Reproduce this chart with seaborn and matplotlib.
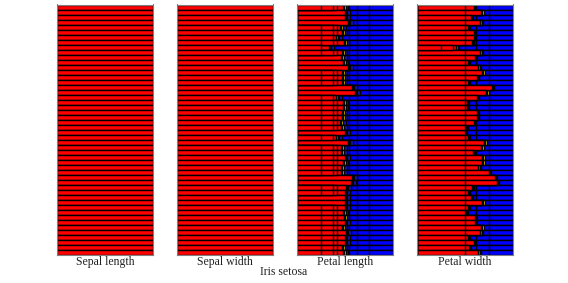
import numpy as np
import pandas as pd
import matplotlib
matplotlib.use("Agg")
import matplotlib.pyplot as plt
import seaborn as sns

# Panel titles
panels = ["Sepal length", "Sepal width", "Petal length", "Petal width"]
group_label = "Iris setosa"
n_rows = 50

# Share of red (setosa) in each sample row
sepal_length_red = [1.0] * n_rows
sepal_width_red = [1.0] * n_rows
petal_length_red = [0.48, 0.50, 0.50, 0.53, 0.45, 0.47, 0.41, 0.49, 0.33, 0.47,
                    0.46, 0.48, 0.53, 0.47, 0.47, 0.47, 0.57, 0.60, 0.41, 0.48,
                    0.48, 0.47, 0.47, 0.45, 0.46, 0.50, 0.41, 0.53, 0.46, 0.46,
                    0.50, 0.48, 0.46, 0.46, 0.57, 0.56, 0.51, 0.50, 0.50, 0.50,
                    0.50, 0.48, 0.49, 0.50, 0.47, 0.51, 0.50, 0.50, 0.47, 0.48]
petal_width_red = [0.59, 0.67, 0.56, 0.66, 0.53, 0.59, 0.59, 0.57, 0.41, 0.66,
                   0.60, 0.53, 0.64, 0.68, 0.62, 0.53, 0.78, 0.72, 0.62, 0.52,
                   0.52, 0.62, 0.62, 0.59, 0.51, 0.50, 0.53, 0.70, 0.67, 0.58,
                   0.68, 0.68, 0.64, 0.75, 0.81, 0.83, 0.57, 0.53, 0.56, 0.68,
                   0.53, 0.51, 0.60, 0.60, 0.67, 0.66, 0.53, 0.59, 0.54, 0.64]

# Rows whose red part is split into sub-blocks
petal_length_split = [1, 0, 0, 0, 1, 1, 1, 1, 1, 1, 0, 0, 0, 1, 1, 1, 0, 0, 1, 1,
                      1, 1, 1, 1, 1, 0, 1, 0, 1, 1, 1, 1, 1, 1, 0, 0, 1, 1, 0, 0,
                      1, 1, 1, 1, 1, 1, 1, 1, 1, 1]
petal_width_split = [0] * 8 + [1] + [0] * 41

# block boundaries inside red / blue parts
red_cuts = {"Petal length": [0.42, 0.38, 0.25], "Petal width": [0.42, 0.38, 0.25]}
always_cuts = {"Petal length": [], "Petal width": [0.50]}
blue_cuts = {"Petal length": [0.75, 0.62, 0.54], "Petal width": [0.75, 0.61]}

red_vals = {"Sepal length": sepal_length_red, "Sepal width": sepal_width_red,
            "Petal length": petal_length_red, "Petal width": petal_width_red}
split_vals = {"Sepal length": [0] * n_rows, "Sepal width": [0] * n_rows,
              "Petal length": petal_length_split, "Petal width": petal_width_split}

RED, BLUE, YELLOW, OLIVE, NAVY = "#ff0000", "#0000ff", "#ffd800", "#8a7a00", "#1a1ac0"

sns.set_theme(style="white")
plt.rcParams["font.family"] = ["Liberation Serif", "DejaVu Serif"]

fig = plt.figure(figsize=(5.68, 2.83), dpi=100)
lefts = [57, 177, 297, 417]
rows = np.arange(n_rows)


def layer(ax, widths, color):
    df = pd.DataFrame({"row": rows, "w": widths})
    sns.barplot(data=df, x="w", y="row", orient="h", color=color, width=1.0,
                edgecolor="black", linewidth=1.0, errorbar=None, ax=ax,
                saturation=1)


for name, left in zip(panels, lefts):
    ax = fig.add_axes([left / 568, 1 - 255 / 283, 96 / 568, 250.5 / 283])
    red = np.array(red_vals[name])
    split = np.array(split_vals[name])
    full = red >= 1.0
    olive_end = np.where(full, 1.0, red + 0.012)
    yellow_end = np.where(full, 1.0, red + 0.026)

    # blue background and its blocks
    layer(ax, [1.0] * n_rows, BLUE)
    for c in blue_cuts.get(name, []):
        layer(ax, np.where(yellow_end < c, c, 0), BLUE)
    if name == "Petal length":
        layer(ax, np.minimum(yellow_end + 0.03, 1.0), NAVY)
    for c in always_cuts.get(name, []):
        layer(ax, [c] * n_rows, BLUE)
    layer(ax, yellow_end, YELLOW)
    layer(ax, olive_end, OLIVE)
    layer(ax, red, RED)
    for c in always_cuts.get(name, []):
        layer(ax, np.where(red > c, c, 0), RED)
    for c in red_cuts.get(name, []):
        layer(ax, np.where((split == 1) & (red > c), c, 0), RED)

    ax.set_xlim(0, 1)
    ax.set_ylim(n_rows - 0.5, -0.5)
    ax.set_xticks([])
    ax.set_yticks([])
    ax.set_xlabel("")
    ax.set_ylabel("")
    for s in ax.spines.values():
        s.set_color("#808080")
        s.set_linewidth(0.8)
    fig.text((left + 48) / 568, 1 - 262 / 283, name, ha="center", va="center",
             fontsize=8.5, color="#222222")

fig.text(0.5, 1 - 272 / 283, group_label, ha="center", va="center",
         fontsize=8.5, color="#222222")

fig.savefig("out.png", dpi=100)
